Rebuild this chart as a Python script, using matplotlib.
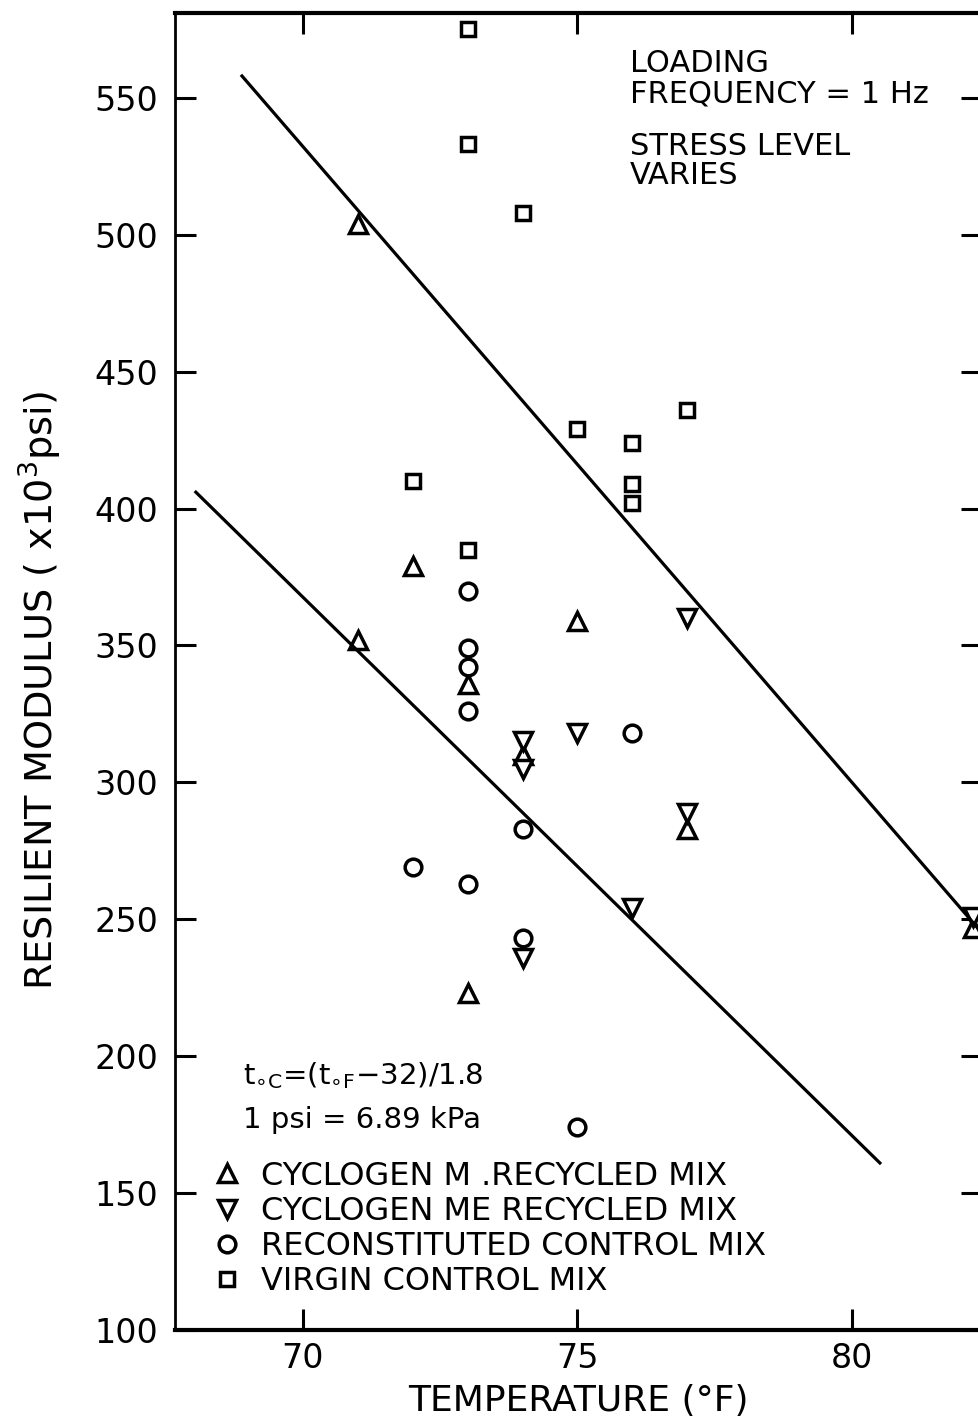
import matplotlib
matplotlib.use("Agg")
from matplotlib import pyplot as plt

# data
m_x = [71, 71, 72, 73, 73, 74, 75, 77, 82.2]
m_y = [504, 352, 379, 336, 223, 310, 359, 283, 247]

me_x = [74, 74, 74, 75, 76, 77, 77, 82.2]
me_y = [315, 305, 236, 318, 254, 360, 289, 251]

rec_x = [72, 73, 73, 73, 73, 73, 74, 74, 75, 76]
rec_y = [269, 370, 349, 342, 326, 263, 283, 243, 174, 318]

vir_x = [72, 73, 73, 73, 74, 75, 76, 76, 76, 77]
vir_y = [410, 575, 533, 385, 508, 429, 424, 409, 402, 436]

upper_x = [68.89, 82.37]
upper_y = [558, 245]
lower_x = [68.05, 80.51]
lower_y = [406, 161]

labels = ['CYCLOGEN M .RECYCLED MIX', 'CYCLOGEN ME RECYCLED MIX',
          'RECONSTITUTED CONTROL MIX', 'VIRGIN CONTROL MIX']

plt.rcParams['font.family'] = 'DejaVu Sans'

fig = plt.figure(figsize=(9.79, 14.19), dpi=100)
ax = fig.add_axes([175/979, 89/1419, 807/979, 1317/1419])

mk = dict(linestyle='none', mfc='white', mec='black', mew=2.5, color='black')
h1, = ax.plot(m_x, m_y, marker='^', ms=13, **mk)
h2, = ax.plot(me_x, me_y, marker='v', ms=13, **mk)
h3, = ax.plot(rec_x, rec_y, marker='o', ms=12, **mk)
h4, = ax.plot(vir_x, vir_y, marker='s', ms=10.5, **mk)

ax.plot(upper_x, upper_y, color='black', lw=2.3)
ax.plot(lower_x, lower_y, color='black', lw=2.3)

ax.set_xlim(67.67, 82.37)
ax.set_ylim(100, 581)
ax.set_xticks([70, 75, 80])
ax.set_yticks(range(100, 551, 50))
ax.tick_params(direction='in', length=15, width=2.2, top=True, right=True,
               labelsize=24)
ax.tick_params(axis='x', pad=9)
ax.tick_params(axis='y', pad=12)
for s in ['top', 'bottom']:
    ax.spines[s].set_linewidth(3)
ax.spines['left'].set_linewidth(2)
ax.spines['right'].set_linewidth(2)

ax.set_xlabel('TEMPERATURE (°F)', fontsize=26, labelpad=6)
fig.text(0.041, 0.513, r'RESILIENT MODULUS ( x10$^3$psi)', rotation=90,
         ha='center', va='center', fontsize=27.5)

ax.text(0.564, 0.973, 'LOADING\nFREQUENCY = 1 Hz', transform=ax.transAxes,
        fontsize=22, va='top', ha='left', linespacing=1.08)
ax.text(0.564, 0.910, 'STRESS LEVEL\nVARIES', transform=ax.transAxes,
        fontsize=22, va='top', ha='left', linespacing=1.0)

ax.text(0.084, 0.187, r't$_{\circ\mathrm{C}}$=(t$_{\circ\mathrm{F}}$$-$32)/1.8',
        transform=ax.transAxes, fontsize=21, va='baseline', ha='left')
ax.text(0.084, 0.153, '1 psi = 6.89 kPa',
        transform=ax.transAxes, fontsize=21, va='baseline', ha='left')

ax.legend([h1, h2, h3, h4], labels, loc='lower left',
          bbox_to_anchor=(0.045, 0.025), frameon=False, fontsize=23,
          handlelength=1.0, handletextpad=0.55, labelspacing=0.13,
          borderaxespad=0, borderpad=0)

fig.savefig('out.png', dpi=100)
